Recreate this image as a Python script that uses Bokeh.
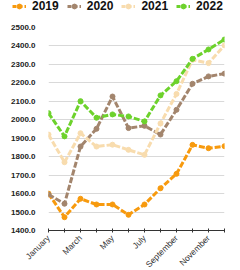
import math
from bokeh.plotting import figure
from bokeh.layouts import column
from bokeh.models import FixedTicker, PrintfTickFormatter, Legend, LegendItem
from bokeh.embed import file_html
from bokeh.resources import INLINE

months = ["January", "February", "March", "April", "May", "June", "July",
          "August", "September", "October", "November", "December"]
series_names = ["2019", "2020", "2021", "2022"]
v2019 = [1600, 1472, 1572, 1541, 1541, 1485, 1541, 1629, 1707, 1864, 1846, 1857]
v2020 = [1595, 1545, 1855, 1951, 2126, 1955, 1967, 1920, 2054, 2195, 2235, 2250]
v2021 = [1920, 1770, 1927, 1855, 1865, 1837, 1810, 1980, 2140, 2325, 2307, 2403]
v2022 = [2036, 1910, 2101, 2011, 2029, 2018, 1991, 2132, 2209, 2330, 2381, 2435]
colors = ["#f79a0e", "#a3856d", "#f8dcae", "#6dd22c"]
y_ticks = [1400, 1500, 1600, 1700, 1800, 1900, 2000, 2100, 2200, 2300, 2400, 2500]

xs = list(range(len(months)))

# main chart
p = figure(frame_width=176, frame_height=203, output_backend="svg", toolbar_location=None,
           x_range=(0, 11), y_range=(1400, 2500),
           min_border_left=48, min_border_right=16, min_border_top=13,
           min_border_bottom=20)
p.outline_line_color = None
p.background_fill_color = "white"
p.border_fill_color = "white"

for name, vals, col in zip(series_names, [v2019, v2020, v2021, v2022], colors):
    p.line(xs, vals, line_color=col, line_width=3, line_dash="6 2")
    p.scatter(xs, vals, size=5, fill_color=col, line_color=col)

p.xaxis.ticker = FixedTicker(ticks=xs)
p.xaxis.major_label_overrides = {i: (m if i % 2 == 0 else "") for i, m in enumerate(months)}
p.xaxis.major_label_orientation = math.pi / 4
p.xaxis.major_label_text_font = "Liberation Sans"
p.xaxis.major_label_text_font_size = "8.5px"
p.xaxis.major_label_text_color = "#333333"
p.xaxis.major_label_standoff = 4
p.xaxis.axis_line_color = "#333333"
p.xaxis.major_tick_line_color = "#333333"
p.xaxis.major_tick_in = 2
p.xaxis.major_tick_out = 2
p.xaxis.minor_tick_line_color = None
p.xgrid.grid_line_color = None

p.yaxis.ticker = FixedTicker(ticks=y_ticks)
p.yaxis.formatter = PrintfTickFormatter(format="%.1f")
p.yaxis.major_label_text_font = "Liberation Sans"
p.yaxis.major_label_text_font_style = "bold"
p.yaxis.major_label_text_font_size = "8px"
p.yaxis.major_label_text_color = "#222222"
p.yaxis.axis_line_color = None
p.yaxis.major_tick_line_color = None
p.yaxis.minor_tick_line_color = None
p.yaxis.major_label_standoff = 7
p.ygrid.grid_line_color = "#d9d9d9"
p.ygrid.ticker = FixedTicker(ticks=y_ticks)

# legend strip
nan = float("nan")
lg = figure(width=240, height=14, output_backend="svg", toolbar_location=None,
            x_axis_type=None, y_axis_type=None, x_range=(0, 1), y_range=(0, 1),
            min_border=0)
lg.frame_align = False
lg.outline_line_color = None
lg.grid.visible = False
items = []
for name, col in zip(series_names, colors):
    r1 = lg.line(x=[nan], y=[nan], line_color=col, line_width=3, line_dash="4 2")
    r2 = lg.scatter(x=[nan], y=[nan], size=5, fill_color=col, line_color=col)
    items.append(LegendItem(label=name, renderers=[r1, r2]))
legend = Legend(items=items, orientation="horizontal", location=(12, 1),
                padding=0, margin=0, spacing=8, glyph_width=14, glyph_height=12,
                label_standoff=6, label_text_font="Liberation Sans",
                label_text_font_style="bold", label_text_font_size="12px",
                label_text_color="#111111", label_height=12,
                background_fill_alpha=0, border_line_color=None)
lg.add_layout(legend, "center")

layout = column(lg, p, spacing=0)
open("out.html", "w").write(file_html(layout, INLINE))
